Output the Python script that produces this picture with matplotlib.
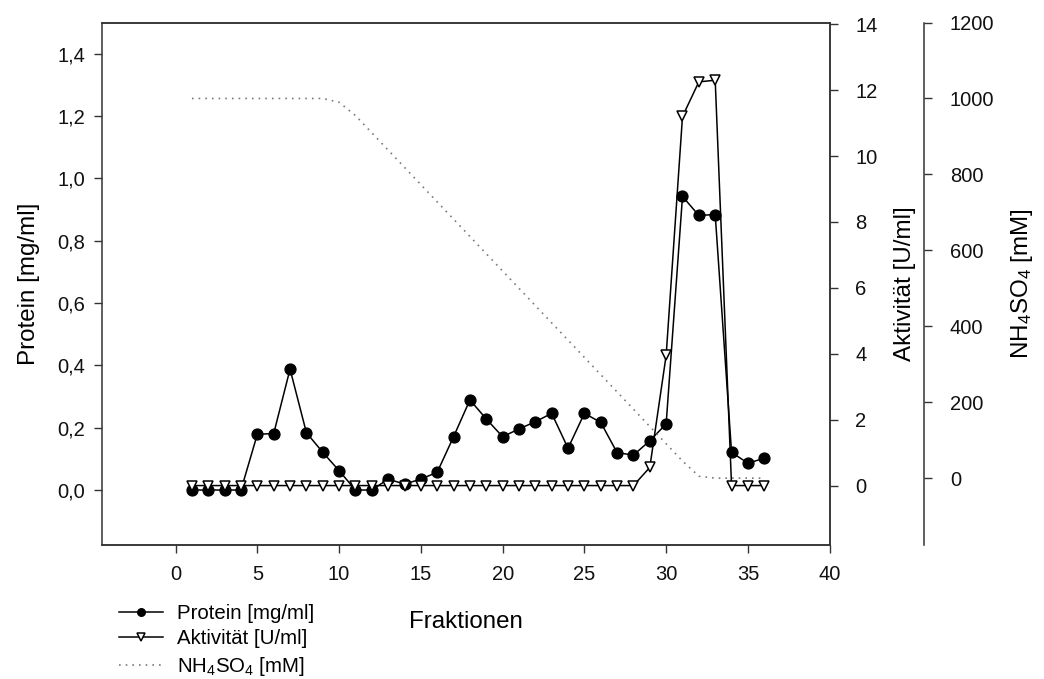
import matplotlib
matplotlib.use("Agg")
import matplotlib.pyplot as plt

plt.rcParams["font.family"] = ["Liberation Sans", "DejaVu Sans"]
plt.rcParams["mathtext.default"] = "regular"

# Fraction numbers
fractions = [1, 2, 3, 4, 5, 6, 7, 8, 9, 10, 11, 12, 13, 14, 15, 16, 17, 18,
             19, 20, 21, 22, 23, 24, 25, 26, 27, 28, 29, 30, 31, 32, 33, 34, 35, 36]

# Protein concentration [mg/ml]
protein = [0.0, 0.0, 0.0, 0.0, 0.179, 0.181, 0.388, 0.184, 0.121, 0.062,
           0.0, 0.0, 0.035, 0.019, 0.035, 0.057, 0.171, 0.289, 0.228, 0.171,
           0.196, 0.219, 0.246, 0.134, 0.246, 0.217, 0.120, 0.112, 0.158, 0.212,
           0.942, 0.881, 0.884, 0.121, 0.086, 0.102]

# Enzyme activity [U/ml]
activity = [0.0, 0.0, 0.0, 0.0, 0.0, 0.0, 0.0, 0.0, 0.0, 0.0,
            0.0, 0.0, 0.0, 0.0, 0.0, 0.0, 0.0, 0.0, 0.0, 0.0,
            0.0, 0.0, 0.0, 0.0, 0.0, 0.0, 0.0, 0.0, 0.55, 3.95,
            11.2, 12.25, 12.3, 0.0, 0.0, 0.0]

# Ammonium sulfate gradient [mM]
nh4_frac = [1, 9, 10, 11, 31, 32, 33, 36]
nh4_mm = [1000, 1000, 990, 955, 45, 5, 0, 0]

x_ticks = [0, 5, 10, 15, 20, 25, 30, 35, 40]
protein_ticks = [0.0, 0.2, 0.4, 0.6, 0.8, 1.0, 1.2, 1.4]
activity_ticks = [0, 2, 4, 6, 8, 10, 12, 14]
nh4_ticks = [0, 200, 400, 600, 800, 1000, 1200]

spine_col = "#333333"
tick_fs = 14.5
label_fs = 17.4

fig = plt.figure(figsize=(10.44, 6.79), dpi=100)
ax = fig.add_axes([0.0977, 0.198, 0.697, 0.7688])
ax2 = ax.twinx()
ax3 = ax.twinx()
ax3.spines["right"].set_position(("axes", 1.13))

for a in (ax, ax2, ax3):
    for s in a.spines.values():
        s.set_color(spine_col)
        s.set_linewidth(1.1)
    a.tick_params(direction="out", length=6, width=1.0, colors=spine_col,
                  labelcolor="#111111", labelsize=tick_fs, pad=6)
ax.tick_params(axis="x", pad=8.5)
ax2.tick_params(axis="y", pad=12.5)
ax3.tick_params(axis="y", pad=12.5)
for s in ("left", "top", "bottom"):
    ax3.spines[s].set_visible(False)
ax2.spines["left"].set_visible(False)

l_nh4, = ax3.plot(nh4_frac, nh4_mm, color="#7a7a7a", lw=1.2,
                  linestyle=(0, (1, 3)), label="NH$_4$SO$_4$ [mM]")
l_prot, = ax.plot(fractions, protein, color="black", lw=1.1, marker="o",
                  markersize=7.8, markerfacecolor="black", markeredgecolor="black",
                  label="Protein [mg/ml]")
l_act, = ax2.plot(fractions, activity, color="black", lw=1.1, marker="v",
                  markersize=7.6, markerfacecolor="white", markeredgecolor="black",
                  markeredgewidth=1.1, label="Aktivität [U/ml]")

ax.set_xlim(-4.5, 40)
ax.set_ylim(-0.175, 1.5)
ax2.set_ylim(-1.79, 14.05)
ax3.set_ylim(-175, 1200)

ax.set_xticks(x_ticks)
ax.set_yticks(protein_ticks)
ax.set_yticklabels([f"{v:.1f}".replace(".", ",") for v in protein_ticks])
ax2.set_yticks(activity_ticks)
ax3.set_yticks(nh4_ticks)

ax.set_xlabel("Fraktionen", fontsize=label_fs)
ax.xaxis.set_label_coords(0.5, -0.128)
ax.set_ylabel("Protein [mg/ml]", fontsize=label_fs, va="center")
ax.yaxis.set_label_coords(-0.101, 0.5)
ax2.set_ylabel("Aktivität [U/ml]", fontsize=label_fs, va="center")
ax2.yaxis.set_label_coords(1.104, 0.5)
ax3.set_ylabel("NH$_4$SO$_4$ [mM]", fontsize=label_fs, va="center")
ax3.yaxis.set_label_coords(1.264, 0.5)

fig.legend([l_prot, l_act, l_nh4],
           [l_prot.get_label(), l_act.get_label(), l_nh4.get_label()],
           loc="center left", bbox_to_anchor=(0.114, 0.056), frameon=False,
           fontsize=14.7, handlelength=2.15, handletextpad=0.7,
           labelspacing=0.32, borderpad=0, borderaxespad=0, markerscale=0.7)

fig.savefig("out.png", dpi=100)
